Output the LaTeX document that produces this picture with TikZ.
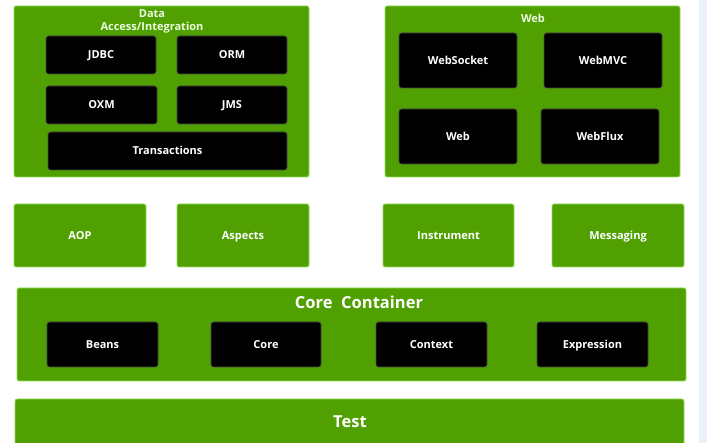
\documentclass[tikz,border=0pt]{standalone}
\usepackage{fontspec}
\setmainfont{Open Sans}
\definecolor{boxgreen}{RGB}{79,160,0}
\definecolor{edgegreen}{RGB}{150,225,90}
\definecolor{titlegreen}{RGB}{235,252,225}
\definecolor{stripblue}{RGB}{234,241,252}
\begin{document}
\begin{tikzpicture}[x=1pt, y=-1pt,
  group/.style={draw=edgegreen, line width=0.8pt, fill=boxgreen, rounded corners=2pt, inner sep=0pt},
  module/.style={draw=black!70, line width=0.6pt, fill=black, text=white, rounded corners=2.5pt, inner sep=0pt, text height=1.5ex, text depth=0.1ex, font=\bfseries\fontsize{11}{12}\selectfont},
  layer/.style={group, text=white, text height=1.5ex, text depth=0.1ex, font=\bfseries\fontsize{11}{12}\selectfont},
  heading/.style={text=titlegreen, inner sep=0pt, font=\bfseries\fontsize{11}{13}\selectfont, align=center},
  bigheading/.style={text=white, inner sep=0pt, font=\bfseries\fontsize{16.5}{18}\selectfont}]
			\useasboundingbox (0, 0) rectangle (707, 443);
			\clip (0, 0) rectangle (707, 443);
			\fill[white] (0, 0) rectangle (707, 443);
			\fill[stripblue] (699, 0) rectangle (707, 443);

			\node[group, minimum width=295, minimum height=171] (data) at (161.5, 91.5) {};
			\node[heading] (dataTitle) at (152, 21) {Data\\Access/Integration};
			\node[module, minimum width=110, minimum height=38] (jdbc) at (101, 55) {JDBC};
			\node[module, minimum width=110, minimum height=38] (orm) at (232, 55) {ORM};
			\node[module, minimum width=111, minimum height=38] (oxm) at (101.5, 105) {OXM};
			\node[module, minimum width=110, minimum height=38] (jms) at (232, 105) {JMS};
			\node[module, minimum width=239, minimum height=38] (tx) at (167.5, 151) {Transactions};

			\node[group, minimum width=295, minimum height=171] (web) at (532.5, 91.5) {};
			\node[heading] (webTitle) at (533, 18) {Web};
			\node[module, minimum width=118, minimum height=55] (socket) at (458, 60.5) {WebSocket};
			\node[module, minimum width=118, minimum height=55] (mvc) at (603, 60.5) {WebMVC};
			\node[module, minimum width=118, minimum height=55] (servlet) at (458, 136.5) {Web};
			\node[module, minimum width=118, minimum height=55] (flux) at (600, 136.5) {WebFlux};

			\node[layer, minimum width=132, minimum height=63] (aop) at (80, 235.5) {AOP};
			\node[layer, minimum width=132, minimum height=63] (aspects) at (243, 235.5) {Aspects};
			\node[layer, minimum width=131, minimum height=63] (instrument) at (448.5, 235.5) {Instrument};
			\node[layer, minimum width=132, minimum height=63] (messaging) at (618, 235.5) {Messaging};

			\node[group, minimum width=669, minimum height=93] (container) at (351.5, 334.5) {};
			\node[bigheading] (containerTitle) at (359, 302) {Core\ \ Container};
			\node[module, minimum width=111, minimum height=45] (beans) at (102.5, 344.5) {Beans};
			\node[module, minimum width=110, minimum height=45] (core) at (266, 344.5) {Core};
			\node[module, minimum width=111, minimum height=45] (context) at (431.5, 344.5) {Context};
			\node[module, minimum width=111, minimum height=45] (expression) at (592.5, 344.5) {Expression};

			\node[group, minimum width=669, minimum height=70] (test) at (349.5, 434) {};
			\node[bigheading] (testTitle) at (350, 422) {Test};
		\end{tikzpicture}
\end{document}
